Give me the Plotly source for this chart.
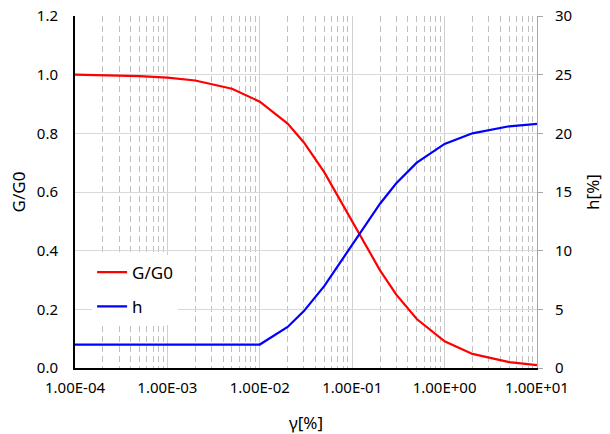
import plotly.graph_objects as go

strain = [1e-4, 2e-4, 5e-4, 1e-3, 2e-3, 5e-3, 1e-2, 2e-2, 3e-2, 5e-2,
          0.1, 0.2, 0.3, 0.5, 1, 2, 5, 10]
g_ratio = [1.0, 0.998, 0.995, 0.99, 0.98, 0.952, 0.908, 0.833, 0.769, 0.667,
           0.5, 0.333, 0.25, 0.167, 0.091, 0.048, 0.02, 0.01]
damping = [2, 2, 2, 2, 2, 2, 2, 3.5, 4.85, 7.0,
           10.5, 14.0, 15.75, 17.5, 19.1, 20.0, 20.6, 20.8]

x_tickvals = [1e-4, 1e-3, 1e-2, 1e-1, 1, 10]
x_ticktext = ["1.00E-04", "1.00E-03", "1.00E-02", "1.00E-01", "1.00E+00", "1.00E+01"]

FONT = "Noto Sans"
TICK = 15
TITLE = 17

fig = go.Figure()
fig.add_trace(go.Scatter(x=strain, y=g_ratio, mode="lines", name="G/G0",
                         line=dict(color="#ff0000", width=2.2), legendgroup="a"))
fig.add_trace(go.Scatter(x=strain, y=damping, mode="lines", name="h",
                         line=dict(color="#0000ff", width=2.2), yaxis="y2", legendgroup="b"))

fig.update_layout(
    width=610, height=434,
    margin=dict(l=75, r=73, t=16, b=66),
    paper_bgcolor="white", plot_bgcolor="white",
    font=dict(family=FONT, size=TICK, color="#000000"),
    showlegend=True,
    legend=dict(x=0.037, y=0.322, xanchor="left", yanchor="top",
                bgcolor="white", borderwidth=0, tracegroupgap=9,
                font=dict(family=FONT, size=TITLE, color="#000000")),
    xaxis=dict(type="log", range=[-4, 1], tickvals=x_tickvals, ticktext=x_ticktext,
               automargin=False, tickfont=dict(size=TICK),
               showgrid=True, gridcolor="#d0d0d0", gridwidth=1,
               showline=True, linecolor="#000000", linewidth=2,
               ticks="", zeroline=False, ticklabelstandoff=5,
               minor=dict(dtick="D1", showgrid=True, gridcolor="#bfbfbf",
                          griddash="6px,4px", gridwidth=1, ticks=""),
               title=dict(text="γ[%]", font=dict(family=FONT, size=TITLE), standoff=21)),
    yaxis=dict(range=[0, 1.2], dtick=0.2, tickformat=".1f", automargin=False,
               tickfont=dict(size=TICK),
               showgrid=True, gridcolor="#d9d9d9", gridwidth=1,
               showline=True, linecolor="#000000", linewidth=2,
               ticks="", zeroline=False, ticklabelstandoff=12,
               title=dict(text="G/G0", font=dict(family=FONT, size=TITLE), standoff=7)),
    yaxis2=dict(range=[0, 30], dtick=5, overlaying="y", side="right", automargin=False,
                tickfont=dict(size=TICK),
                showgrid=False, showline=True, linecolor="#a6a6a6", linewidth=1,
                ticks="outside", ticklen=5, tickcolor="#a6a6a6", zeroline=False,
                ticklabelstandoff=9,
                title=dict(text="h[%]", font=dict(family=FONT, size=TITLE))),
)

fig.write_html("out.html", config={"displayModeBar": False},
               post_script="document.body.style.margin='0';document.body.style.overflow='hidden';")
